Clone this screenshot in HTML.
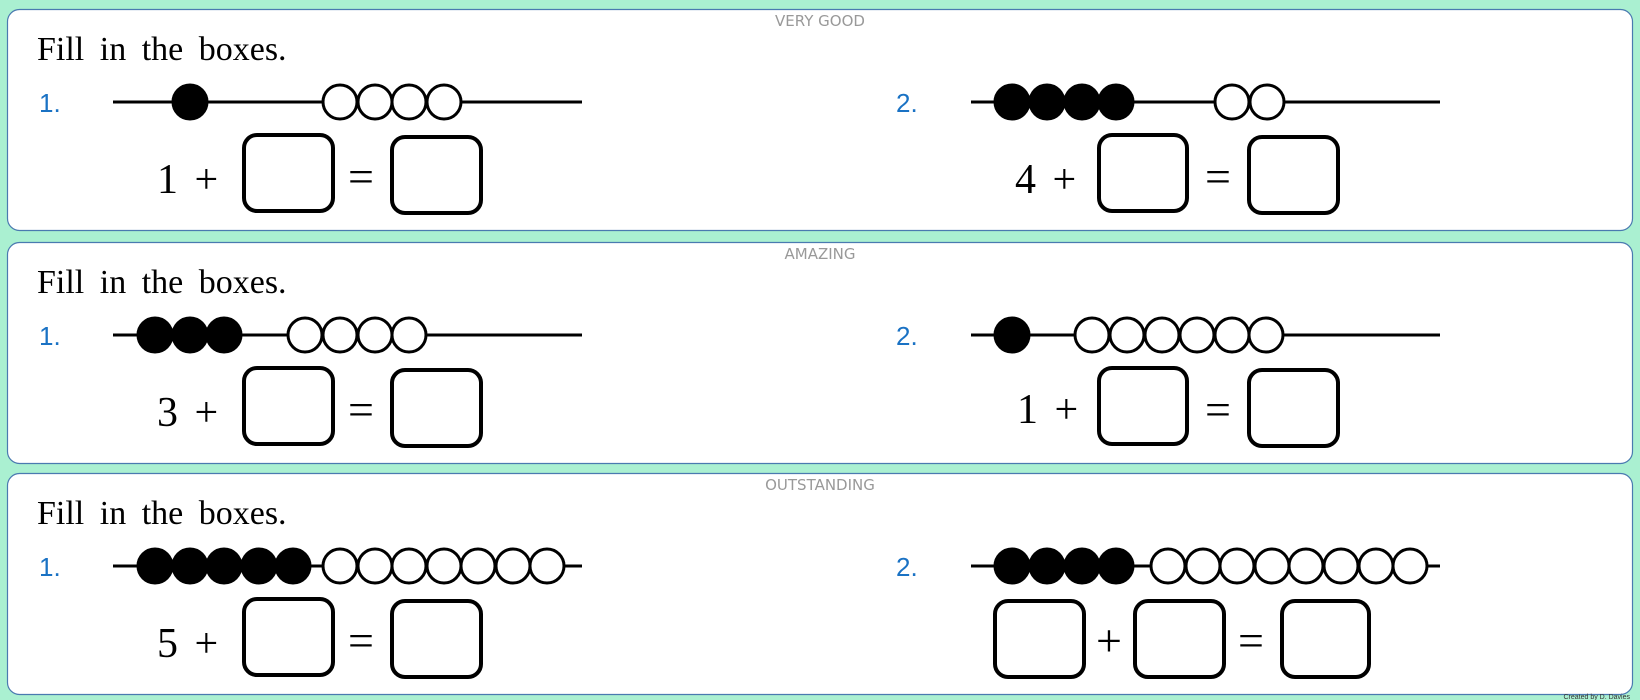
<!DOCTYPE html>
<html><head><meta charset="utf-8"><style>
html,body{margin:0;padding:0;background:#aaf0d1;}
svg{display:block}
</style></head><body>
<svg width="1640" height="700" viewBox="0 0 1640 700" xmlns="http://www.w3.org/2000/svg">
<rect x="0" y="0" width="1640" height="700" fill="#aaf0d1"/>
<defs>
<g id="frame">
  <rect x="7.5" y="9.5" width="1625" height="221" rx="12" fill="#fff" stroke="#4a7ab0" stroke-width="1.2"/>
  <text x="37" y="60" font-family="Liberation Serif, serif" font-size="34" word-spacing="7" fill="#000">Fill in the boxes.</text>
  <text x="39" y="112" font-family="Liberation Sans, sans-serif" font-size="26" fill="#1a72c4">1.</text>
  <text x="896" y="112" font-family="Liberation Sans, sans-serif" font-size="26" fill="#1a72c4">2.</text>
  <line x1="113" y1="102" x2="582" y2="102" stroke="#000" stroke-width="3"/>
  <line x1="971" y1="102" x2="1440" y2="102" stroke="#000" stroke-width="3"/>
</g>
<g id="eqL" font-family="Liberation Serif, serif" font-size="46" fill="#000">
  <rect x="244" y="135" width="89" height="76" rx="13" fill="#fff" stroke="#000" stroke-width="4"/>
  <rect x="392" y="137" width="89" height="76" rx="13" fill="#fff" stroke="#000" stroke-width="4"/>
  <text x="361" y="192" text-anchor="middle">=</text>
</g>
<g id="eqR" font-family="Liberation Serif, serif" font-size="46" fill="#000">
  <rect x="1099" y="135" width="88" height="76" rx="13" fill="#fff" stroke="#000" stroke-width="4"/>
  <rect x="1249" y="137" width="89" height="76" rx="13" fill="#fff" stroke="#000" stroke-width="4"/>
  <text x="1218" y="192" text-anchor="middle">=</text>
</g>
<circle id="f" r="17" fill="#000" stroke="#000" stroke-width="3"/>
<circle id="o" r="17" fill="#fff" stroke="#000" stroke-width="3"/>
</defs>

<g>
  <use href="#frame"/>
  <text x="820" y="26" text-anchor="middle" font-family="DejaVu Sans, sans-serif" font-size="15" fill="#999">VERY GOOD</text>
  <use href="#f" x="190" y="102"/>
  <use href="#o" x="340" y="102"/><use href="#o" x="375" y="102"/><use href="#o" x="409" y="102"/><use href="#o" x="444" y="102"/>
  <use href="#f" x="1012" y="102"/><use href="#f" x="1047" y="102"/><use href="#f" x="1082" y="102"/><use href="#f" x="1116" y="102"/>
  <use href="#o" x="1232" y="102"/><use href="#o" x="1267" y="102"/>
  <use href="#eqL"/>
  <text x="157" y="193" font-family="Liberation Serif, serif" font-size="42" word-spacing="6">1 +</text>
  <use href="#eqR"/>
  <text x="1015" y="193" font-family="Liberation Serif, serif" font-size="42" word-spacing="6">4 +</text>
</g>

<g transform="translate(0,233)">
  <use href="#frame"/>
  <text x="820" y="26" text-anchor="middle" font-family="DejaVu Sans, sans-serif" font-size="15" fill="#999">AMAZING</text>
  <use href="#f" x="155" y="102"/><use href="#f" x="190" y="102"/><use href="#f" x="224" y="102"/>
  <use href="#o" x="305" y="102"/><use href="#o" x="340" y="102"/><use href="#o" x="375" y="102"/><use href="#o" x="409" y="102"/>
  <use href="#f" x="1012" y="102"/>
  <use href="#o" x="1092" y="102"/><use href="#o" x="1127" y="102"/><use href="#o" x="1162" y="102"/><use href="#o" x="1197" y="102"/><use href="#o" x="1232" y="102"/><use href="#o" x="1266" y="102"/>
  <use href="#eqL"/>
  <text x="157" y="193" font-family="Liberation Serif, serif" font-size="42" word-spacing="6">3 +</text>
  <use href="#eqR"/>
  <text x="1017" y="190" font-family="Liberation Serif, serif" font-size="42" word-spacing="6">1 +</text>
</g>

<g transform="translate(0,464)">
  <use href="#frame"/>
  <text x="820" y="26" text-anchor="middle" font-family="DejaVu Sans, sans-serif" font-size="15" fill="#999">OUTSTANDING</text>
  <use href="#f" x="155" y="102"/><use href="#f" x="190" y="102"/><use href="#f" x="224" y="102"/><use href="#f" x="259" y="102"/><use href="#f" x="293" y="102"/>
  <use href="#o" x="340" y="102"/><use href="#o" x="375" y="102"/><use href="#o" x="409" y="102"/><use href="#o" x="444" y="102"/><use href="#o" x="478" y="102"/><use href="#o" x="513" y="102"/><use href="#o" x="547" y="102"/>
  <use href="#f" x="1012" y="102"/><use href="#f" x="1047" y="102"/><use href="#f" x="1082" y="102"/><use href="#f" x="1116" y="102"/>
  <use href="#o" x="1168" y="102"/><use href="#o" x="1203" y="102"/><use href="#o" x="1237" y="102"/><use href="#o" x="1272" y="102"/><use href="#o" x="1306" y="102"/><use href="#o" x="1341" y="102"/><use href="#o" x="1376" y="102"/><use href="#o" x="1410" y="102"/>
  <use href="#eqL"/>
  <text x="157" y="193" font-family="Liberation Serif, serif" font-size="42" word-spacing="6">5 +</text>
  <g font-family="Liberation Serif, serif" font-size="46">
    <rect x="995" y="137" width="89" height="76" rx="13" fill="#fff" stroke="#000" stroke-width="4"/>
    <rect x="1135" y="137" width="89" height="76" rx="13" fill="#fff" stroke="#000" stroke-width="4"/>
    <rect x="1282" y="137" width="87" height="76" rx="13" fill="#fff" stroke="#000" stroke-width="4"/>
    <text x="1109" y="192" text-anchor="middle">+</text>
    <text x="1251" y="192" text-anchor="middle">=</text>
  </g>
</g>
<text x="1630" y="699" text-anchor="end" font-family="Liberation Sans, sans-serif" font-size="7" fill="#333">Created by D. Davies</text>
</svg>
</body></html>
